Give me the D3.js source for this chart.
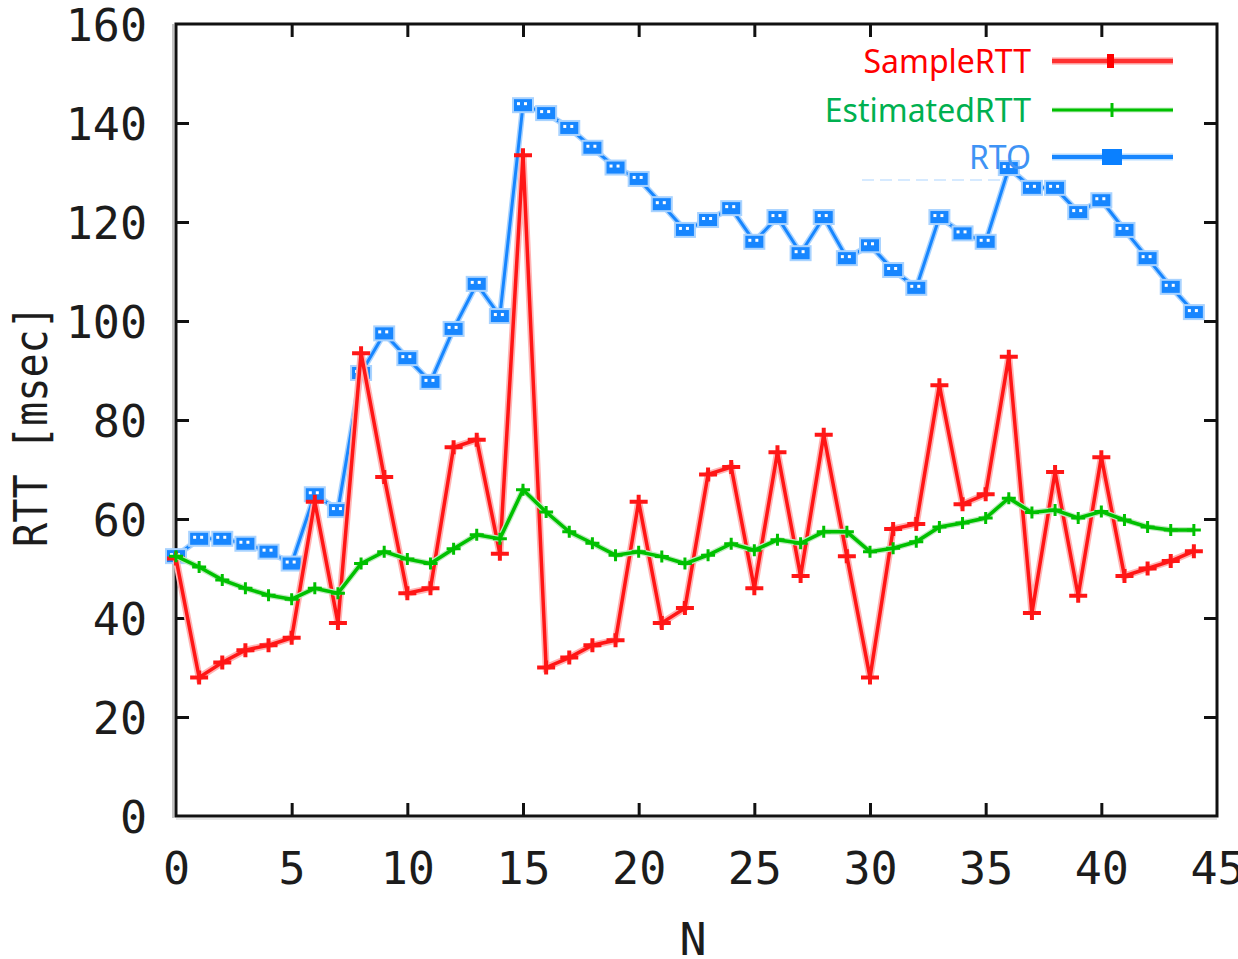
<!DOCTYPE html>
<head>
  <meta charset="utf-8">
  <script src="https://cdn.jsdelivr.net/npm/d3@7"></script>
  <style>
    body { margin:0; background:#fff; }
    .tick text { font-family:"DejaVu Sans Mono"; font-size:45px; fill:#1c1c1c; }
    .legend { font-family:"Noto Sans"; font-size:32px; }
  </style>
</head>

<body>
  <script>
    var width = 1238,
        height = 959;

    // values, index = N
    var sampleRTT = [52,28,31,33.5,34.5,36,63.5,39,93.5,68.5,45,46,74.5,76,53,133.5,30,32,34.5,35.5,
                     63.5,39,42,69,70.5,46,73.5,48.5,77,52.5,28,58,59,87,63,65,92.8,41,69.5,44.5,
                     72.5,48.5,50,51.5,53.5];
    var estimatedRTT = [52.5,50.3,47.7,46,44.6,43.8,46,45,51,53.4,51.9,51,54,56.8,56,65.9,61.4,57.4,55.1,52.7,
                        53.4,52.4,51,52.7,55,53.7,55.8,55.1,57.4,57.4,53.4,54.1,55.4,58.4,59.2,60.2,64.2,61.3,61.8,60.2,
                        61.5,59.8,58.4,57.8,57.8];
    var rto = [52.5,56,56,55,53.4,51,65,61.8,89.5,97.5,92.5,87.7,98.4,107.5,101,143.6,142,139,135,131,
               128.7,123.6,118.4,120.4,122.8,116,121,113.7,121,112.7,115.3,110.3,106.7,121,117.7,116,130.9,126.9,126.9,122,
               124.4,118.4,112.7,106.9,101.8];
    var xTicks = [0,5,10,15,20,25,30,35,40,45];
    var yTicks = [0,20,40,60,80,100,120,140,160];
    var seriesNames = ["SampleRTT","EstimatedRTT","RTO"];

    var pLeft = 176, pRight = 1217, pTop = 24, pBottom = 816;

    var svg = d3.select("body").append("svg")
      .attr("width", width)
      .attr("height", height);

    var x = d3.scaleLinear().domain([0,45]).range([pLeft,pRight]);
    var y = d3.scaleLinear().domain([0,160]).range([pBottom,pTop]);

    // axes, ticks pointing inwards
    var gl = svg.append("g").attr("transform","translate(" + pLeft + ",0)")
      .call(d3.axisLeft(y).tickValues(yTicks).tickSize(-13).tickPadding(29));
    var gb = svg.append("g").attr("transform","translate(0," + pBottom + ")")
      .call(d3.axisBottom(x).tickValues(xTicks).tickSize(-13).tickPadding(36));
    var gr = svg.append("g").attr("transform","translate(" + pRight + ",0)")
      .call(d3.axisRight(y).tickValues(yTicks.slice(1,-1)).tickSize(-13).tickFormat(""));
    var gt = svg.append("g").attr("transform","translate(0," + pTop + ")")
      .call(d3.axisTop(x).tickValues(xTicks.slice(1,-1)).tickSize(-13).tickFormat(""));
    gb.selectAll(".tick").filter(function(d){ return d==0 || d==45; }).select("line").remove();
    gl.selectAll(".tick").filter(function(d){ return d==0 || d==160; }).select("line").remove();

    [gl,gb,gr,gt].forEach(function(g) {
      g.select(".domain").remove();
      g.selectAll(".tick line").attr("stroke","#111").attr("stroke-width",3);
    });
    gl.selectAll(".tick text").attr("dy","0.36em");

    // frame with the soft grey shadow of the original
    svg.append("line").attr("x1",pLeft-3).attr("x2",pLeft-3).attr("y1",pTop).attr("y2",pBottom+2)
      .attr("stroke","#c4c4c4").attr("stroke-width",2);
    svg.append("line").attr("x1",pLeft).attr("x2",pRight).attr("y1",pBottom+3).attr("y2",pBottom+3)
      .attr("stroke","#e6e6e6").attr("stroke-width",2);
    svg.append("rect").attr("x",pLeft).attr("y",pTop).attr("width",pRight-pLeft).attr("height",pBottom-pTop)
      .attr("fill","none").attr("stroke","#111").attr("stroke-width",3);

    // axis titles
    svg.append("text").text("N")
      .attr("x",693).attr("y",955).attr("text-anchor","middle")
      .style("font-family","DejaVu Sans Mono").style("font-size","45px").style("fill","#1c1c1c");
    svg.append("text").text("RTT [msec]")
      .attr("transform","translate(47,426) rotate(-90)")
      .attr("text-anchor","middle")
      .attr("textLength",242).attr("lengthAdjust","spacingAndGlyphs")
      .style("font-family","DejaVu Sans Mono").style("font-size","46px").style("fill","#1c1c1c");

    // faint leftover dash line seen in the picture
    svg.append("line").attr("x1",862).attr("x2",1003).attr("y1",180).attr("y2",180)
      .attr("stroke","#d6eaff").attr("stroke-width",2).attr("stroke-dasharray","12,6");

    var line = d3.line().x(function(d,i){ return x(i); }).y(function(d){ return y(d); });

    // RTO (blue)
    svg.append("path").datum(rto).attr("d",line).attr("fill","none")
      .attr("stroke","#a9d3ff").attr("stroke-width",6);
    svg.append("path").datum(rto).attr("d",line).attr("fill","none")
      .attr("stroke","#1786ff").attr("stroke-width",3);
    var bm = svg.append("g").selectAll("g").data(rto).enter().append("g")
      .attr("transform",function(d,i){ return "translate(" + x(i) + "," + y(d) + ")"; });
    bm.append("rect").attr("x",-11).attr("y",-8).attr("width",22).attr("height",16).attr("fill","#a9d3ff");
    bm.append("rect").attr("x",-9).attr("y",-6).attr("width",18).attr("height",12).attr("fill","#1786ff");
    bm.append("rect").attr("x",-6).attr("y",-3).attr("width",3).attr("height",3).attr("fill","#fff");
    bm.append("rect").attr("x",1).attr("y",-3).attr("width",3).attr("height",3).attr("fill","#fff");

    // SampleRTT (red)
    svg.append("path").datum(sampleRTT).attr("d",line).attr("fill","none")
      .attr("stroke","#ffb4b4").attr("stroke-width",7);
    svg.append("path").datum(sampleRTT).attr("d",line).attr("fill","none")
      .attr("stroke","#ff1616").attr("stroke-width",3.5);
    svg.append("g").selectAll("path").data(sampleRTT).enter().append("path")
      .attr("d",function(d,i){
        var cx = x(i), cy = y(d);
        return "M" + (cx-9) + "," + cy + "H" + (cx+9) + "M" + cx + "," + (cy-7) + "V" + (cy+7);
      })
      .attr("stroke","#ff1616").attr("stroke-width",4).attr("fill","none");

    // EstimatedRTT (green)
    svg.append("path").datum(estimatedRTT).attr("d",line).attr("fill","none")
      .attr("stroke","#bfeabf").attr("stroke-width",6);
    svg.append("path").datum(estimatedRTT).attr("d",line).attr("fill","none")
      .attr("stroke","#00c000").attr("stroke-width",3.5);
    svg.append("g").selectAll("path").data(estimatedRTT).enter().append("path")
      .attr("d",function(d,i){
        var cx = x(i), cy = y(d);
        return "M" + (cx-7) + "," + cy + "H" + (cx+7) + "M" + cx + "," + (cy-6) + "V" + (cy+6);
      })
      .attr("stroke","#00c000").attr("stroke-width",3).attr("fill","none");

    // legend
    var legendY = [61, 110, 157];
    var legendText = ["#ff0000","#00b050","#3f93f5"];
    var legendLine = ["#ff3030","#00c000","#1786ff"];
    var lg = svg.append("g").selectAll("g").data(seriesNames).enter().append("g")
      .attr("transform",function(d,i){ return "translate(0," + legendY[i] + ")"; });
    lg.append("text").attr("class","legend").text(function(d){ return d; })
      .attr("x",1031).attr("dy","0.36em").attr("text-anchor","end")
      .style("fill",function(d,i){ return legendText[i]; });
    lg.append("line").attr("x1",1052).attr("x2",1173)
      .attr("stroke",function(d,i){ return ["#ff9a9a","#c8efc8","#b5dbff"][i]; })
      .attr("stroke-width",function(d,i){ return i==1 ? 5 : 7; });
    lg.append("line").attr("x1",1052).attr("x2",1173)
      .attr("stroke",function(d,i){ return legendLine[i]; })
      .attr("stroke-width",function(d,i){ return i==1 ? 3 : 4; });
    lg.filter(function(d,i){ return i==0; }).append("rect")
      .attr("x",1107).attr("y",-7).attr("width",7).attr("height",14).attr("fill","#ff0000");
    lg.filter(function(d,i){ return i==1; }).append("line")
      .attr("x1",1112).attr("x2",1112).attr("y1",-7).attr("y2",7).attr("stroke","#00c000").attr("stroke-width",3);
    lg.filter(function(d,i){ return i==2; }).append("rect")
      .attr("x",1102).attr("y",-8).attr("width",20).attr("height",16).attr("fill","#0a80ff");
  </script>
</body>
